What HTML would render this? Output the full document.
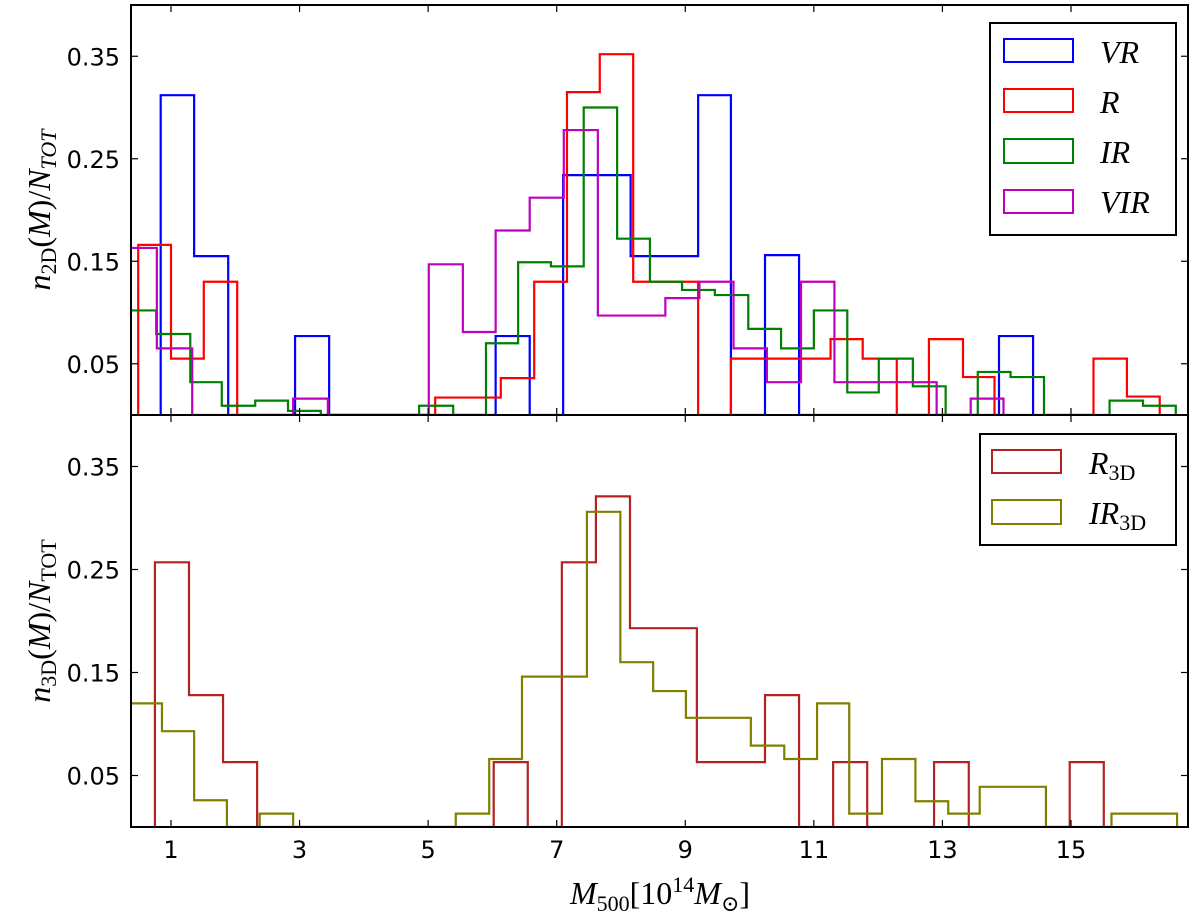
<!DOCTYPE html>
<html><head><meta charset="utf-8">
<style>
html,body{margin:0;padding:0;background:#fff;}
svg{display:block;}
.tk{font-family:"DejaVu Sans","Liberation Sans",sans-serif;font-size:24px;fill:#000;}
.mt{font-family:"Liberation Serif","DejaVu Serif",serif;fill:#000;}
</style></head>
<body>
<svg id="chart" width="1200" height="923" viewBox="0 0 1200 923" xmlns="http://www.w3.org/2000/svg">
<defs>
<clipPath id="clipTop"><rect x="131" y="5" width="1057" height="410"/></clipPath>
<clipPath id="clipBot"><rect x="131" y="415" width="1057" height="412"/></clipPath>
</defs>
<rect x="0" y="0" width="1200" height="923" fill="#fff"/>
<g id="topMarks" clip-path="url(#clipTop)"></g>
<g id="botMarks" clip-path="url(#clipBot)"></g>
<g id="ticks"></g>
<rect x="131" y="5" width="1057" height="410" fill="none" stroke="#000" stroke-width="2"/>
<rect x="131" y="415" width="1057" height="412" fill="none" stroke="#000" stroke-width="2"/>

<g>
<rect x="990" y="23" width="186" height="212" fill="#fff" stroke="#000" stroke-width="2"/>
<rect x="1004" y="39" width="69" height="23" fill="none" stroke="#0000ff" stroke-width="2"/>
<text x="1100" y="63" class="mt" font-size="32" font-style="italic">VR</text>
<rect x="1004" y="89" width="69" height="23" fill="none" stroke="#ff0000" stroke-width="2"/>
<text x="1100" y="113" class="mt" font-size="32" font-style="italic">R</text>
<rect x="1004" y="139" width="69" height="24" fill="none" stroke="#008000" stroke-width="2"/>
<text x="1100" y="163" class="mt" font-size="32" font-style="italic">IR</text>
<rect x="1004" y="190" width="69" height="23" fill="none" stroke="#bf00bf" stroke-width="2"/>
<text x="1100" y="213" class="mt" font-size="32" font-style="italic">VIR</text>
</g>

<g>
<rect x="980" y="434" width="196" height="111" fill="#fff" stroke="#000" stroke-width="2"/>
<rect x="992" y="450" width="69" height="23" fill="none" stroke="#b22222" stroke-width="2"/>
<text x="1089" y="474" class="mt" font-size="32"><tspan font-style="italic">R</tspan><tspan font-size="22" dy="6">3D</tspan></text>
<rect x="992" y="500" width="69" height="24" fill="none" stroke="#808000" stroke-width="2"/>
<text x="1089" y="524" class="mt" font-size="32"><tspan font-style="italic">IR</tspan><tspan font-size="22" dy="6">3D</tspan></text>
</g>

<text class="mt" font-size="32" transform="translate(50,210) rotate(-90)" text-anchor="middle"><tspan font-style="italic">n</tspan><tspan font-size="22" dy="6">2D</tspan><tspan dy="-6">(</tspan><tspan font-style="italic">M</tspan><tspan>)/</tspan><tspan font-style="italic">N</tspan><tspan font-size="22" font-style="italic" dy="6">TOT</tspan></text>
<text class="mt" font-size="32" transform="translate(50,621) rotate(-90)" text-anchor="middle"><tspan font-style="italic">n</tspan><tspan font-size="22" dy="6">3D</tspan><tspan dy="-6">(</tspan><tspan font-style="italic">M</tspan><tspan>)/</tspan><tspan font-style="italic">N</tspan><tspan font-size="22" dy="6">TOT</tspan></text>
<text class="mt" font-size="32" x="660" y="904" text-anchor="middle"><tspan font-style="italic">M</tspan><tspan font-size="22" dy="7">500</tspan><tspan dy="-7">[10</tspan><tspan font-size="22" dy="-12">14</tspan><tspan font-style="italic" dy="12">M</tspan><tspan font-size="22" dy="7">⊙</tspan><tspan dy="-7">]</tspan></text>

<script>
const xTicks = [1,3,5,7,9,11,13,15];
const yTicks = [0.05,0.15,0.25,0.35];
const yTickLabels = ["0.05","0.15","0.25","0.35"];

const vrEdges = [0.84,1.36,1.89,2.93,3.46,6.05,6.58,7.10,8.15,9.20,9.71,10.24,10.77,13.88,14.41];
const vrHeights = [0.312,0.155,0,0.077,0,0.077,0,0.234,0.155,0.312,0,0.156,0,0.077];
const rEdges = [0.49,1.0,1.51,2.03,5.11,6.13,6.65,7.16,7.67,8.19,9.20,9.71,11.26,11.76,12.29,12.79,13.32,13.81,15.35,15.87,16.38];
const rHeights = [0.166,0.055,0.13,0,0.017,0.036,0.13,0.315,0.352,0.13,0,0.055,0.074,0.055,0,0.074,0.037,0,0.055,0.018];
const irEdges = [0.25,0.77,1.30,1.79,2.31,2.82,3.33,4.86,5.39,5.90,6.40,6.91,7.42,7.94,8.45,8.95,9.46,9.98,10.49,11.00,11.52,12.01,12.54,13.05,13.55,14.06,14.58,15.60,16.12,16.63];
const irHeights = [0.102,0.079,0.032,0.009,0.014,0.004,0,0.009,0,0.07,0.149,0.145,0.30,0.172,0.13,0.122,0.117,0.084,0.065,0.102,0.022,0.055,0.028,0,0.042,0.037,0,0.014,0.009];
const virEdges = [0.25,0.78,1.33,2.90,3.44,5.01,5.54,6.05,6.58,7.11,7.64,8.69,9.22,9.75,10.27,10.80,11.32,12.91,13.44,13.95];
const virHeights = [0.163,0.065,0,0.016,0,0.147,0.081,0.18,0.212,0.278,0.097,0.114,0.13,0.065,0.032,0.13,0.032,0,0.016];
const r3dEdges = [0.75,1.28,1.81,2.34,6.02,6.55,7.08,7.61,8.14,9.18,10.24,10.77,11.30,11.83,12.87,13.41,14.98,15.51];
const r3dHeights = [0.257,0.128,0.063,0,0.063,0,0.257,0.321,0.193,0.063,0.128,0,0.063,0,0.063,0,0.063];
const ir3dEdges = [0.35,0.86,1.36,1.87,2.38,2.90,5.43,5.95,6.46,7.47,7.99,8.50,9.01,10.02,10.54,11.05,11.55,12.06,12.58,13.09,13.58,14.61,15.63,16.65];
const ir3dHeights = [0.12,0.093,0.026,0,0.013,0,0.013,0.066,0.146,0.306,0.16,0.132,0.106,0.079,0.066,0.12,0.013,0.066,0.025,0.013,0.039,0,0.013];

const NS = "http://www.w3.org/2000/svg";
const X0 = 131, X1 = 1188, XMIN = 0.378, XMAX = 16.82, YMAX = 0.40;
function xScale(v){ return X0 + (v - XMIN) / (XMAX - XMIN) * (X1 - X0); }
function yTop(v){ return 415 - v / YMAX * 410; }
function yBot(v){ return 827 - v / YMAX * 412; }

function drawHist(g, edges, heights, ys, color, name){
  let d = "M" + xScale(edges[0]) + "," + ys(0);
  for (let i = 0; i < heights.length; i++){
    d += " V" + ys(heights[i]) + " H" + xScale(edges[i+1]);
  }
  d += " V" + ys(0);
  const p = document.createElementNS(NS, "path");
  p.setAttribute("d", d);
  p.setAttribute("fill", "none");
  p.setAttribute("stroke", color);
  p.setAttribute("stroke-width", "2.2");
  
  
  g.appendChild(p);
}
const topG = document.getElementById("topMarks");
const botG = document.getElementById("botMarks");
drawHist(topG, vrEdges, vrHeights, yTop, "#0000ff", "series-vr");
drawHist(topG, rEdges, rHeights, yTop, "#ff0000", "series-r");
drawHist(topG, irEdges, irHeights, yTop, "#008000", "series-ir");
drawHist(topG, virEdges, virHeights, yTop, "#bf00bf", "series-vir");
drawHist(botG, r3dEdges, r3dHeights, yBot, "#b22222", "series-r3d");
drawHist(botG, ir3dEdges, ir3dHeights, yBot, "#808000", "series-ir3d");

const tg = document.getElementById("ticks");
function line(x1,y1,x2,y2){
  const l = document.createElementNS(NS, "line");
  l.setAttribute("x1",x1); l.setAttribute("y1",y1); l.setAttribute("x2",x2); l.setAttribute("y2",y2);
  l.setAttribute("stroke","#000"); l.setAttribute("stroke-width","1.2");
  
  
  tg.appendChild(l);
}
function text(x,y,s,anchor,name){
  const t = document.createElementNS(NS, "text");
  t.setAttribute("x",x); t.setAttribute("y",y); t.setAttribute("text-anchor",anchor);
  t.setAttribute("class","tk");
  t.textContent = s;
  
  
  tg.appendChild(t);
}
xTicks.forEach(v => {
  const x = xScale(v);
  line(x,5,x,12); line(x,415,x,408); line(x,415,x,422); line(x,827,x,820);
  text(x,858,String(v),"middle","x-tick-label");
});
yTicks.forEach((v,i) => {
  const a = yTop(v), b = yBot(v);
  line(131,a,138,a); line(1188,a,1181,a);
  line(131,b,138,b); line(1188,b,1181,b);
  text(120,a+9,yTickLabels[i],"end","top-y-tick-label");
  text(120,b+9,yTickLabels[i],"end","bottom-y-tick-label");
});
</script>
</svg>
</body></html>
